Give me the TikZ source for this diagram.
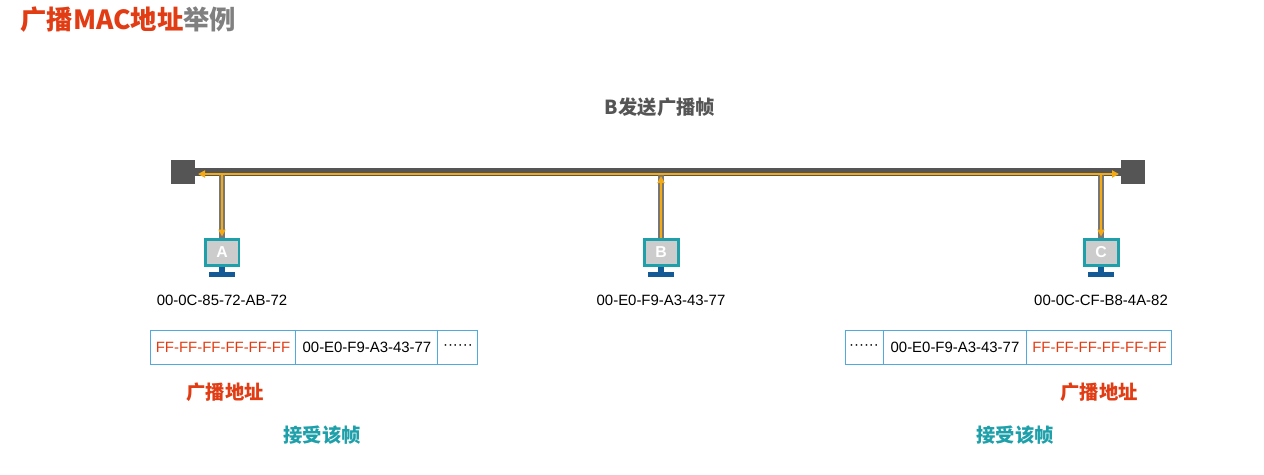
\documentclass[tikz,border=0pt]{standalone}
\usepackage{fontspec}
\setmainfont{Liberation Sans}
\newfontfamily\cjk{Noto Sans CJK SC}
\usetikzlibrary{positioning,arrows.meta}
\definecolor{busgray}{RGB}{85,85,85}
\definecolor{sigorange}{RGB}{245,170,20}
\definecolor{titlered}{RGB}{225,60,20}
\definecolor{tealc}{RGB}{30,160,170}
\definecolor{framebl}{RGB}{80,170,220}
\definecolor{standbl}{RGB}{20,90,150}
\tikzset{
  busline/.style={line width=0.16cm, busgray},
  signal/.style={line width=0.05cm, sigorange, -{Triangle[length=0.14cm,width=0.14cm]}},
  busend/.style={fill=busgray, minimum size=0.48cm, inner sep=0pt},
  mac/.style={font=\fontsize{8.5}{10}\selectfont},
  cell/.style={draw=framebl, line width=0.02cm, minimum height=0.68cm, inner sep=0pt, font=\fontsize{8.5}{10}\selectfont},
  redlbl/.style={text=titlered, font=\cjk\bfseries\fontsize{11}{13}\selectfont},
  teallbl/.style={text=tealc, font=\cjk\bfseries\fontsize{11}{13}\selectfont},
}
% monitor icon
\newcommand{\pcicon}[3]{%
  \node[draw=tealc, line width=0.06cm, fill=gray!40, minimum width=0.68cm, minimum height=0.52cm, inner sep=0pt,
        text=white, font=\bfseries\fontsize{9}{9}\selectfont] (#1) at (#2) {#3};
  \fill[standbl] ([xshift=-0.06cm]#1.south) rectangle ([xshift=0.06cm,yshift=-0.1cm]#1.south);
  \fill[standbl] ([xshift=-0.26cm,yshift=-0.1cm]#1.south) rectangle ([xshift=0.26cm,yshift=-0.2cm]#1.south);
}
\begin{document}
\begin{tikzpicture}[x=0.02cm,y=-0.02cm]
\useasboundingbox (0,0) rectangle (1264,474);
% title
\node[anchor=west, inner sep=0pt, font=\cjk\bfseries\fontsize{15}{17}\selectfont] (title) at (20,20)
  {\textcolor{titlered}{广播MAC地址}\textcolor{gray}{举例}};
\node[text=busgray, font=\cjk\bfseries\fontsize{11}{13}\selectfont] (sendlbl) at (660,107) {B发送广播帧};
% bus
\node[busend] (endL) at (183,172) {};
\node[busend] (endR) at (1133,172) {};
\draw[busline] (endL) -- (endR);
% hosts
\pcicon{pcA}{222,252}{A}
\pcicon{pcB}{661,252}{B}
\pcicon{pcC}{1101,252}{C}
\coordinate (tapA) at (222,174);
\coordinate (tapB) at (661,174);
\coordinate (tapC) at (1101,174);
\coordinate (hitL) at (198,174);
\coordinate (hitR) at (1119,174);
\coordinate (hitB) at (661,176);
\draw[line width=0.12cm, busgray!80] (tapA) -- (pcA.north);
\draw[line width=0.12cm, busgray!80] (tapB) -- (pcB.north);
\draw[line width=0.12cm, busgray!80] (tapC) -- (pcC.north);
% signal
\draw[signal] (tapB) -- (hitL);
\draw[signal] (tapB) -- (hitR);
\draw[signal] (pcB.north) -- (hitB);
\draw[signal] (tapA) -- ([yshift=0.02cm]pcA.north);
\draw[signal] (tapC) -- ([yshift=0.02cm]pcC.north);
% MAC addresses
\node[mac] (macA) at (222,300) {00-0C-85-72-AB-72};
\node[mac] (macB) at (661,300) {00-E0-F9-A3-43-77};
\node[mac] (macC) at (1101,300) {00-0C-CF-B8-4A-82};
% frames
\node[cell, minimum width=2.92cm, text=titlered] (dstA) at (223,347) {FF-FF-FF-FF-FF-FF};
\node[cell, minimum width=2.84cm, right=-0.02cm of dstA] (srcA) {00-E0-F9-A3-43-77};
\node[cell, minimum width=0.8cm, right=-0.02cm of srcA] (dotA) {······};
\node[cell, minimum width=0.76cm] (dotC) at (864,347) {······};
\node[cell, minimum width=2.88cm, right=-0.02cm of dotC] (srcC) {00-E0-F9-A3-43-77};
\node[cell, minimum width=2.9cm, right=-0.02cm of srcC, text=titlered] (dstC) {FF-FF-FF-FF-FF-FF};
% labels
\node[redlbl] (bcA) at (225,392) {广播地址};
\node[redlbl] (bcC) at (1099,392) {广播地址};
\node[teallbl] (accA) at (322,435) {接受该帧};
\node[teallbl] (accC) at (1015,435) {接受该帧};
\end{tikzpicture}
\end{document}
